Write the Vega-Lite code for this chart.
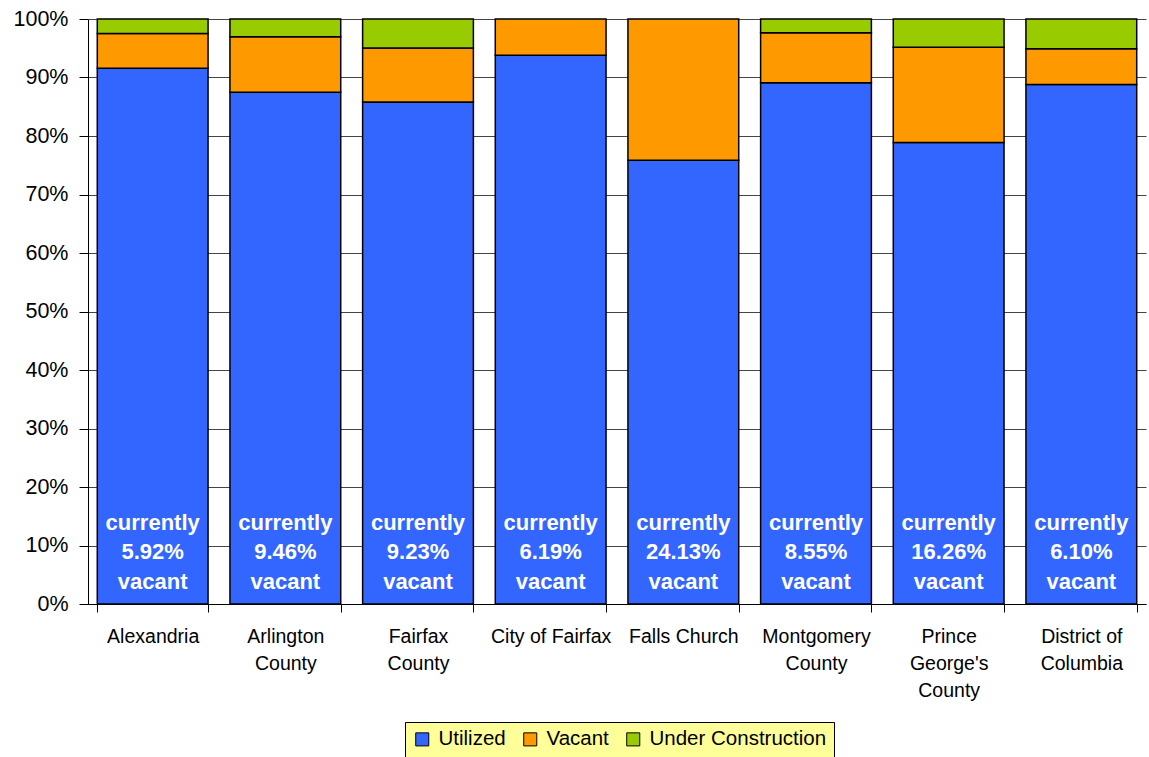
{
  "$schema": "https://vega.github.io/schema/vega-lite/v6.json",
  "autosize": {"type": "none"},
  "padding": {"left": 88, "top": 19, "right": 3, "bottom": 153},
  "width": 1058,
  "height": 585,
  "background": "white",
  "config": {
    "font": "Liberation Sans",
    "view": {"stroke": null},
    "axis": {"domainColor": "#000", "tickColor": "#000", "labelColor": "#000", "titleColor": "#000"}
  },
  "data": {
    "values": [
      {"county": "Alexandria", "Utilized": 91.6, "Vacant": 5.92, "Under Construction": 2.48},
      {"county": "Arlington County", "Utilized": 87.5, "Vacant": 9.46, "Under Construction": 3.04},
      {"county": "Fairfax County", "Utilized": 85.8, "Vacant": 9.23, "Under Construction": 4.97},
      {"county": "City of Fairfax", "Utilized": 93.81, "Vacant": 6.19, "Under Construction": 0},
      {"county": "Falls Church", "Utilized": 75.87, "Vacant": 24.13, "Under Construction": 0},
      {"county": "Montgomery County", "Utilized": 89.1, "Vacant": 8.55, "Under Construction": 2.35},
      {"county": "Prince George's County", "Utilized": 78.9, "Vacant": 16.26, "Under Construction": 4.84},
      {"county": "District of Columbia", "Utilized": 88.8, "Vacant": 6.1, "Under Construction": 5.1}
    ]
  },
  "encoding": {
    "x": {
      "field": "county",
      "type": "nominal",
      "sort": null,
      "title": null,
      "scale": {"paddingInner": 0.165, "paddingOuter": 0.07},
      "axis": {
        "labelAngle": 0,
        "labelFontSize": 19.5,
        "labelLineHeight": 27,
        "labelPadding": 15,
        "labelLimit": 300,
        "tickSize": 8,
        "tickBand": "extent",
        "domainWidth": 1,
        "labelExpr": "datum.value == 'Arlington County' ? ['Arlington', 'County'] : datum.value == 'Fairfax County' ? ['Fairfax', 'County'] : datum.value == 'Montgomery County' ? ['Montgomery', 'County'] : datum.value == \"Prince George's County\" ? ['Prince', \"George's\", 'County'] : datum.value == 'District of Columbia' ? ['District of', 'Columbia'] : datum.value"
      }
    }
  },
  "layer": [
    {
      "transform": [
        {"fold": ["Utilized", "Vacant", "Under Construction"], "as": ["status", "value"]},
        {"filter": "datum.value > 0"},
        {"calculate": "indexof(['Utilized', 'Vacant', 'Under Construction'], datum.status)", "as": "stackOrder"}
      ],
      "mark": {"type": "bar", "stroke": "#000", "strokeWidth": 1.5},
      "encoding": {
        "y": {
          "field": "value",
          "type": "quantitative",
          "stack": "zero",
          "title": null,
          "scale": {"domain": [0, 100], "nice": false},
          "axis": {
            "values": [0, 10, 20, 30, 40, 50, 60, 70, 80, 90, 100],
            "labelExpr": "datum.value + '%'",
            "labelFontSize": 21.5,
            "labelPadding": 11,
            "tickSize": 9,
            "grid": true,
            "gridColor": "#444",
            "gridWidth": 1,
            "domainWidth": 1
          }
        },
        "color": {
          "field": "status",
          "type": "nominal",
          "scale": {
            "domain": ["Utilized", "Vacant", "Under Construction"],
            "range": ["#3366FF", "#FF9900", "#99CC00"]
          },
          "legend": {
            "title": null,
            "orient": "none",
            "direction": "horizontal",
            "legendX": 317,
            "legendY": 703,
            "fillColor": "#FFFF99",
            "strokeColor": "#000",
            "padding": 7,
            "symbolType": "square",
            "symbolSize": 170,
            "symbolStrokeColor": "#000",
            "symbolStrokeWidth": 1,
            "symbolOpacity": 1,
            "labelFontSize": 20.5,
            "labelLimit": 400,
            "labelOffset": 6,
            "columnPadding": 14
          }
        },
        "order": {"field": "stackOrder", "type": "quantitative"}
      }
    },
    {
      "transform": [
        {"calculate": "['currently', format(datum.Vacant, '.2f') + '%', 'vacant']", "as": "vacantLabel"}
      ],
      "mark": {
        "type": "text",
        "color": "white",
        "fontWeight": "bold",
        "fontSize": 22,
        "lineHeight": 29.5,
        "align": "center",
        "baseline": "middle"
      },
      "encoding": {
        "y": {"datum": 13.85, "type": "quantitative"},
        "text": {"field": "vacantLabel"}
      }
    }
  ]
}
